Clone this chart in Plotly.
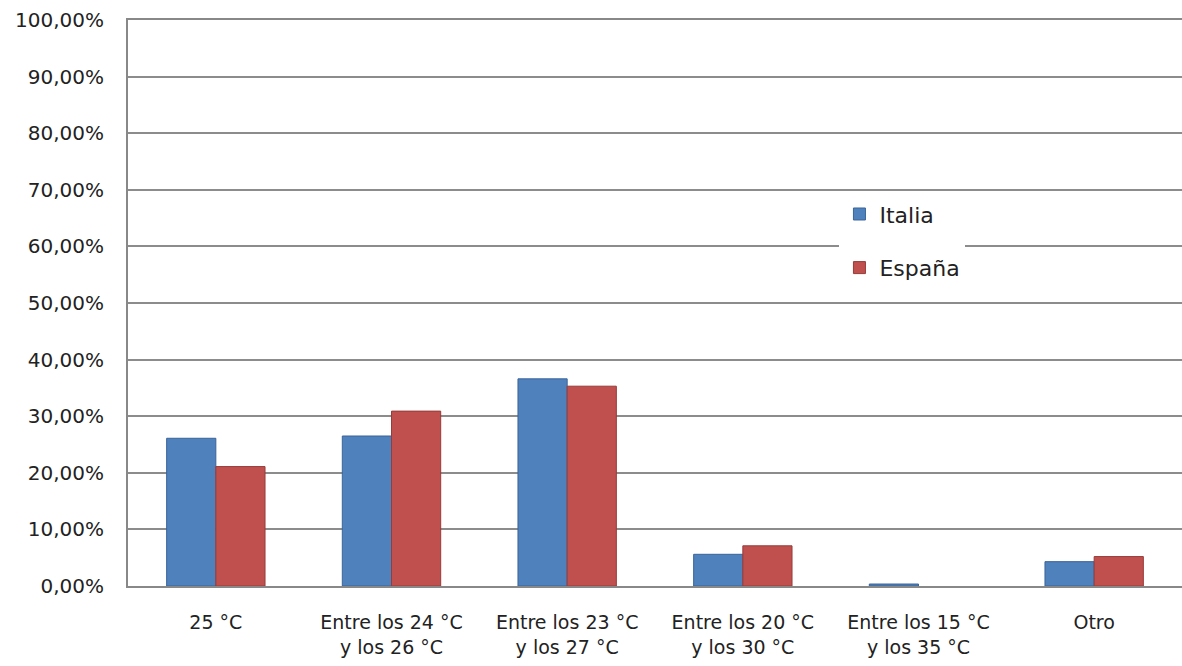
import plotly.graph_objects as go

categories = ["25 °C", "Entre los 24 °C<br>y los 26 °C", "Entre los 23 °C<br>y los 27 °C",
              "Entre los 20 °C<br>y los 30 °C", "Entre los 15 °C<br>y los 35 °C", "Otro"]
italia = [26.1, 26.5, 36.6, 5.6, 0.35, 4.3]
espana = [21.1, 30.9, 35.3, 7.1, 0.0, 5.2]
tick_vals = [0, 10, 20, 30, 40, 50, 60, 70, 80, 90, 100]
tick_text = ["0,00%", "10,00%", "20,00%", "30,00%", "40,00%", "50,00%",
             "60,00%", "70,00%", "80,00%", "90,00%", "100,00%"]

font_family = "DejaVu Sans, Open Sans, sans-serif"

fig = go.Figure()
fig.add_trace(go.Bar(name="Italia", x=categories, y=italia, legendgroup="a",
                     marker=dict(color="#4F81BD",
                                 line=dict(color="#3A6398",
                                           width=[1 if v > 0 else 0 for v in italia]))))
fig.add_trace(go.Bar(name="España", x=categories, y=espana, legendgroup="b",
                     marker=dict(color="#C0504D",
                                 line=dict(color="#963C3A",
                                           width=[1 if v > 0 else 0 for v in espana]))))

fig.update_layout(
    width=1182, height=666,
    margin=dict(l=128, r=0, t=20, b=80),
    paper_bgcolor="white", plot_bgcolor="white",
    barmode="group", bargap=0.44, bargroupgap=0,
    font=dict(family=font_family, size=20, color="#222"),
    legend=dict(x=0.675, y=0.694, xanchor="left", yanchor="top",
                bgcolor="white", font=dict(size=22, color="#222"),
                traceorder="grouped", tracegroupgap=22, itemwidth=30, borderwidth=0),
    xaxis=dict(showline=True, linecolor="#888", linewidth=2, showgrid=False, mirror=True,
               ticks="", tickfont=dict(size=19), ticklabelstandoff=18),
    yaxis=dict(range=[0, 100], tickvals=tick_vals, ticktext=tick_text,
               showgrid=True, gridcolor="#8c8c8c", gridwidth=2,
               showline=True, linecolor="#888", linewidth=2,
               ticks="", ticklen=0, tickfont=dict(size=20), zeroline=False,
               ticklabelstandoff=18),
)
fig.write_html("out.html")
